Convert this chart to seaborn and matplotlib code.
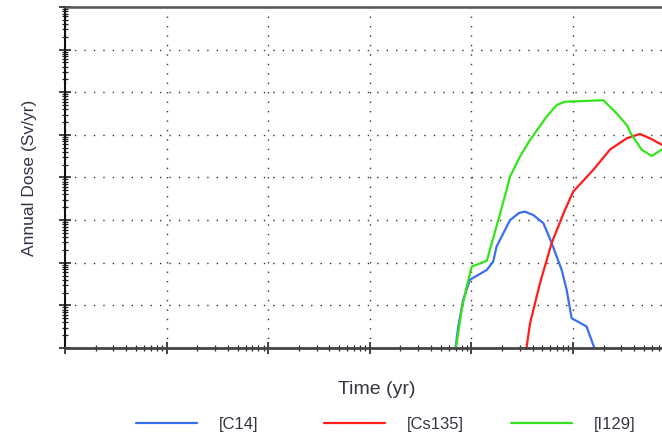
import numpy as np
import pandas as pd
import matplotlib
matplotlib.use('Agg')
import matplotlib.pyplot as plt
from matplotlib.ticker import LogLocator, NullFormatter
import seaborn as sns

# (time in yr, dose in Sv/yr)
c14_time = [6.9e3, 7.43e3, 8.32e3, 9.68e3, 1.42e4, 1.64e4, 1.77e4, 2.40e4, 2.95e4,
            3.37e4, 4.06e4, 5.11e4, 6.17e4, 7.74e4, 8.67e4, 9.70e4, 1.36e5, 1.68e5]
c14_dose = [8e-13, 3.2e-12, 1.35e-11, 4.0e-11, 6.8e-11, 1.07e-10, 2.4e-10, 1.0e-9, 1.48e-9,
            1.58e-9, 1.32e-9, 8.5e-10, 2.9e-10, 6.8e-11, 2.3e-11, 5.0e-12, 3.2e-12, 8e-13]

cs135_time = [3.44e4, 3.78e4, 4.73e4, 6.17e4, 8.34e4, 1.007e5, 1.58e5, 2.31e5,
              3.38e5, 4.56e5, 5.73e5, 7.46e5, 9.0e5]
cs135_dose = [8e-13, 3.8e-12, 3.3e-11, 2.9e-10, 1.74e-9, 4.7e-9, 1.5e-8, 4.5e-8,
              8.3e-8, 1.05e-7, 8.3e-8, 5.9e-8, 4.2e-8]

i129_time = [6.95e3, 8.02e3, 8.99e3, 1.007e4, 1.42e4, 1.84e4, 2.22e4, 2.40e4, 3.01e4,
             3.78e4, 5.51e4, 6.9e4, 8.34e4, 1.2e5, 1.99e5, 2.69e5, 3.38e5, 3.78e5,
             4.74e5, 5.96e5, 7.46e5, 9.0e5]
i129_dose = [8e-13, 7.8e-12, 2.75e-11, 8.1e-11, 1.12e-10, 1.0e-9, 5.1e-9, 1.05e-8, 3.1e-8,
             7.6e-8, 2.7e-7, 5.0e-7, 6.0e-7, 6.2e-7, 6.5e-7, 3.2e-7, 1.7e-7, 1.0e-7,
             4.5e-8, 3.2e-8, 4.5e-8, 5.5e-8]

nuclides = ['[C14]', '[Cs135]', '[I129]']
colors = ['#3a6ef2', '#ff1c1c', '#33e41a']

df = pd.concat([
    pd.DataFrame({'time': c14_time, 'dose': c14_dose, 'nuclide': nuclides[0]}),
    pd.DataFrame({'time': cs135_time, 'dose': cs135_dose, 'nuclide': nuclides[1]}),
    pd.DataFrame({'time': i129_time, 'dose': i129_dose, 'nuclide': nuclides[2]}),
])

sns.set_style('white')
plt.rcParams['font.family'] = ['Liberation Sans', 'DejaVu Sans']

fig = plt.figure(figsize=(6.62, 4.36), dpi=100)
ax = fig.add_axes([65 / 662, 88 / 436, 624 / 662, 341 / 436])

sns.lineplot(data=df, x='time', y='dose', hue='nuclide', palette=colors,
             sort=False, estimator=None, linewidth=1.6, ax=ax)
ax.set(xscale='log', yscale='log')
ax.set_xlim(1, 10 ** 6.142)
ax.set_ylim(1e-12, 1e-4)

for axis in (ax.xaxis, ax.yaxis):
    axis.set_major_locator(LogLocator(base=10, numticks=20))
    axis.set_minor_locator(LogLocator(base=10, subs=np.arange(2, 10), numticks=200))
    axis.set_major_formatter(NullFormatter())
    axis.set_minor_formatter(NullFormatter())

ax.grid(True, which='major', linestyle=(0, (1, 5.8)), linewidth=1.0, color='#333333')
ax.tick_params(which='both', bottom=True, left=True, top=False, right=False)
ax.tick_params(which='major', direction='inout', length=8, width=1.2, color='#222222')
ax.tick_params(which='minor', direction='inout', length=5, width=0.9, color='#222222')

ax.spines['right'].set_visible(False)
ax.spines['left'].set_color('#111111')
ax.spines['left'].set_linewidth(1.5)
ax.spines['bottom'].set_color('#444444')
ax.spines['bottom'].set_linewidth(2)
ax.spines['top'].set_color('#555555')
ax.spines['top'].set_linewidth(1.8)

ax.set_xlabel('Time (yr)', fontsize=14, color='#3a3346', labelpad=16)
ax.set_ylabel('Annual Dose (Sv/yr)', fontsize=12.5, color='#3a3346', labelpad=12.5)

handles, labels = ax.get_legend_handles_labels()
ax.get_legend().remove()
for h, l, x0 in zip(handles, labels, [137, 325, 512]):
    fig.legend([h], [l], loc='center left', bbox_to_anchor=(x0 / 662 - 0.012, 12 / 436),
               frameon=False, handlelength=3.7, handletextpad=1.3, fontsize=12,
               labelcolor='#3a3346', borderaxespad=0)

fig.savefig('out.png', dpi=100)
